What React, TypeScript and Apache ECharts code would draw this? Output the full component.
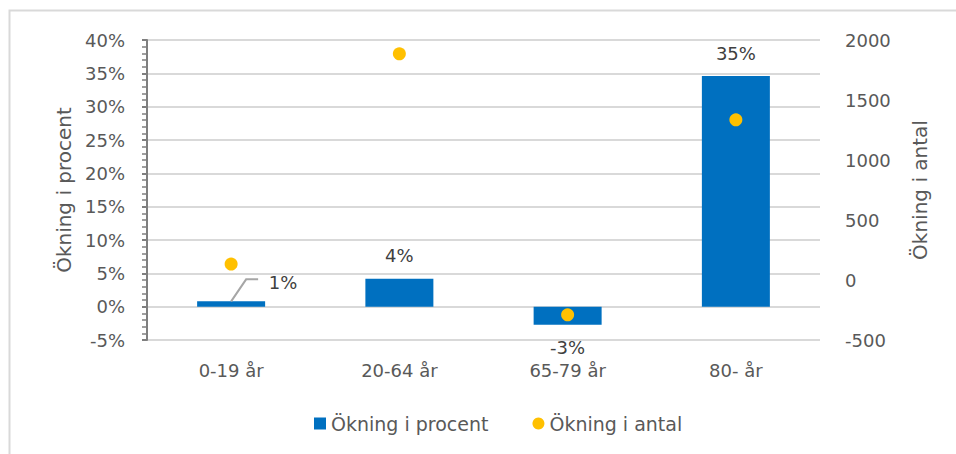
import React, { useEffect, useRef } from "react";
import * as echarts from "echarts";

const categories = ["0-19 år", "20-64 år", "65-79 år", "80- år"];
const percentValues = [0.8, 4.2, -2.7, 34.6];
const countValues = [133, 1885, -290, 1335];
const seriesNames = ["Ökning i procent", "Ökning i antal"];
const axisNames = ["Ökning i procent", "Ökning i antal"];

const FONT = "'DejaVu Sans', 'Open Sans', sans-serif";
const TXT = "#595959";
const FS = 18;

export default function App() {
  const ref = useRef<HTMLDivElement>(null);
  useEffect(() => {
    if (!ref.current) return;
    const chart = echarts.init(ref.current, null, { renderer: "svg" });
    const fmt = (p: any) => Math.round(p.value) + "%";
    chart.setOption({
      animation: false,
      textStyle: { fontFamily: FONT },
      grid: { left: 147, right: 136, top: 40, bottom: 114 },
      legend: {
        bottom: 16,
        left: 309,
        itemGap: 44,
        itemWidth: 12,
        itemHeight: 12,
        textStyle: { fontSize: 19, color: TXT, fontFamily: FONT },
        data: [
          { name: seriesNames[0], icon: "rect" },
          { name: seriesNames[1], icon: "circle" },
        ],
      },
      xAxis: {
        type: "category",
        data: categories,
        axisLine: { show: false },
        axisTick: { show: false },
        axisLabel: { margin: 21, fontSize: FS, color: TXT, fontFamily: FONT },
      },
      yAxis: [
        {
          type: "value",
          min: -5,
          max: 40,
          interval: 5,
          name: axisNames[0],
          nameLocation: "middle",
          nameGap: 72,
          nameTextStyle: { fontSize: 20, color: TXT, fontFamily: FONT },
          axisLine: { show: true, lineStyle: { color: "#7f7f7f", width: 2 } },
          axisTick: { show: true, length: 5, lineStyle: { color: "#7f7f7f", width: 2 } },
          minorTick: { show: true, splitNumber: 5, length: 5, lineStyle: { color: "#7f7f7f", width: 1.5 } },
          axisLabel: { formatter: "{value}%", margin: 22, fontSize: FS, color: TXT, fontFamily: FONT },
          splitLine: { lineStyle: { color: "#d9d9d9", width: 2 } },
        },
        {
          type: "value",
          min: -500,
          max: 2000,
          interval: 500,
          name: axisNames[1],
          nameLocation: "middle",
          nameGap: 90,
          nameTextStyle: { fontSize: 20, color: TXT, fontFamily: FONT },
          axisLine: { show: false },
          axisTick: { show: false },
          axisLabel: { formatter: (v: number) => String(v), margin: 25, fontSize: FS, color: TXT, fontFamily: FONT },
          splitLine: { show: false },
        },
      ],
      series: [
        {
          name: seriesNames[0],
          type: "bar",
          yAxisIndex: 0,
          barWidth: 68,
          itemStyle: { color: "#0070C0" },
          data: percentValues.map((v) => ({
            value: v,
            label: {
              show: true,
              position: v < 0 ? "bottom" : "top",
              distance: 14,
              formatter: fmt,
            },
          })),
          label: { fontSize: FS, color: "#404040", fontFamily: FONT },
          labelLayout: (p: any) => (p.dataIndex === 0 ? { dx: 52, dy: 4 } : {}),
        },
        {
          name: seriesNames[1],
          type: "scatter",
          yAxisIndex: 1,
          symbol: "circle",
          symbolSize: 13,
          itemStyle: { color: "#FFC000", opacity: 1 },
          data: countValues,
          z: 5,
        },
      ],
    });
    const p0 = chart.convertToPixel({ xAxisIndex: 0, yAxisIndex: 0 }, [0, percentValues[0]]) as number[];
    chart.setOption({
      graphic: [
        {
          type: "rect",
          shape: { x: 9.5, y: 10.5, width: 1000, height: 500 },
          style: { fill: "none", stroke: "#d9d9d9", lineWidth: 2 },
        },
        {
          type: "polyline",
          shape: {
            points: [
              [p0[0], p0[1]],
              [p0[0] + 15, p0[1] - 22],
              [p0[0] + 27, p0[1] - 22],
            ],
          },
          style: { fill: "none", stroke: "#a6a6a6", lineWidth: 2 },
          z: 10,
        },
      ],
    });
    return () => chart.dispose();
  }, []);
  return (
    <div
      ref={ref}
      style={{ position: "absolute", left: 0, top: 0, width: 956, height: 454, background: "#fff" }}
    />
  );
}
